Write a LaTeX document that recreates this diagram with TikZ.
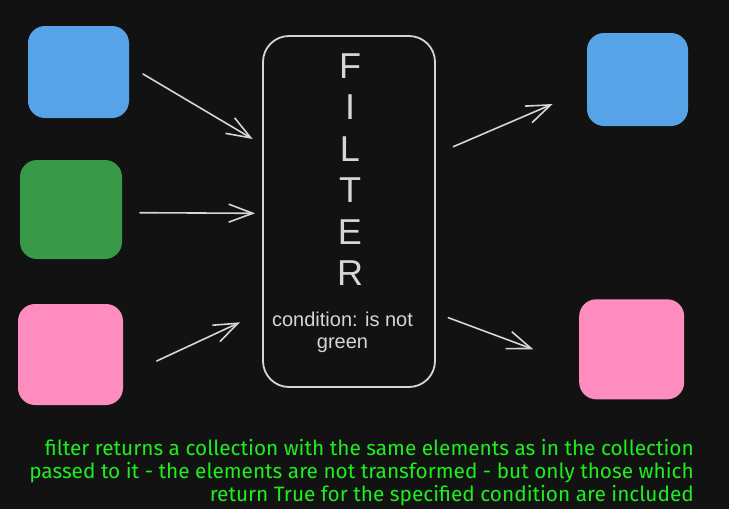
\documentclass[tikz,border=0pt]{standalone}
\usepackage{fontspec}
\setmainfont{Liberation Sans}
\newfontfamily\notefont{Fira Sans}
\usetikzlibrary{arrows.meta}

\definecolor{bgdark}{HTML}{121212}
\definecolor{lineg}{HTML}{D6D6D6}
\definecolor{itemblue}{HTML}{56A3E8}
\definecolor{itemgreen}{HTML}{389A49}
\definecolor{itempink}{HTML}{FF8CBE}
\definecolor{notegreen}{HTML}{1EEE1E}

\tikzset{
	item/.style = {draw = none, rounded corners = 17pt, inner sep = 0pt},
	flow/.style = {draw = lineg, line width = 1.6pt, line cap = round, line join = round,
		-{Straight Barb[length = 24pt, width = 18pt, line width = 1.6pt]}}
}

\begin{document}
\begin{tikzpicture}[x = 1pt, y = -1pt]
	
	\fill [bgdark] (0, 0) rectangle (729, 509);
	\useasboundingbox (0, 0) rectangle (729, 509);
	
	% The elements going in
	
	\node (inblue) [item, fill = itemblue, minimum width = 101pt, minimum height = 92pt] at (78.5, 72) {};
	\node (ingreen) [item, fill = itemgreen, minimum width = 102pt, minimum height = 99pt] at (71, 209.5) {};
	\node (inpink) [item, fill = itempink, minimum width = 105pt, minimum height = 101pt] at (70.5, 354.5) {};
	
	% The filter
	
	\node (filter) [draw = lineg, line width = 1.8pt, rounded corners = 26pt, minimum width = 172pt, minimum height = 351pt] at (349, 211.5) {};
	
	\foreach \letter [count = \i] in {F, I, L, T, E, R}
		\node (ltr\i) [anchor = base, text = lineg, inner sep = 0pt, font = \fontsize{36}{36}\selectfont] at (350, 78 + 41.5 * \i - 41.5) {\letter};
	
	\node (cond) [anchor = base, align = center, text = lineg, inner sep = 0pt, font = \fontsize{20}{22}\selectfont] at (342.5, 348) {condition: is not\\green};
	
	% The elements coming out
	
	\node (outblue) [item, fill = itemblue, minimum width = 101pt, minimum height = 93pt] at (637.5, 79.5) {};
	\node (outpink) [item, fill = itempink, minimum width = 105pt, minimum height = 100pt] at (631.7, 349.3) {};
	
	% The arrows
	
	\coordinate (a1s) at (143, 74);
	\coordinate (a1e) at (252.7, 139);
	\coordinate (a2s) at (140, 212.7);
	\coordinate (a2e) at (255, 213.3);
	\coordinate (a3s) at (156.7, 361);
	\coordinate (a3e) at (240, 322.3);
	\coordinate (b1s) at (453.3, 146.7);
	\coordinate (b1e) at (552.7, 104);
	\coordinate (b2s) at (448.3, 317.7);
	\coordinate (b2e) at (533.3, 349.3);
	
	\draw [flow] (a1s) -- (a1e);
	\draw [flow] (a2s) -- (a2e);
	\draw [flow] (a3s) -- (a3e);
	\draw [flow] (b1s) -- (b1e);
	\draw [flow] (b2s) -- (b2e);
	
	% The note
	
	\node (note) [anchor = base east, align = right, text = notegreen, inner sep = 0pt, font = \notefont\fontsize{20.8}{23}\selectfont] at (694, 501) {filter returns a collection with the same elements as in the collection\\passed to it - the elements are not transformed - but only those which\\return True for the specified condition are included};
	
\end{tikzpicture}
\end{document}
